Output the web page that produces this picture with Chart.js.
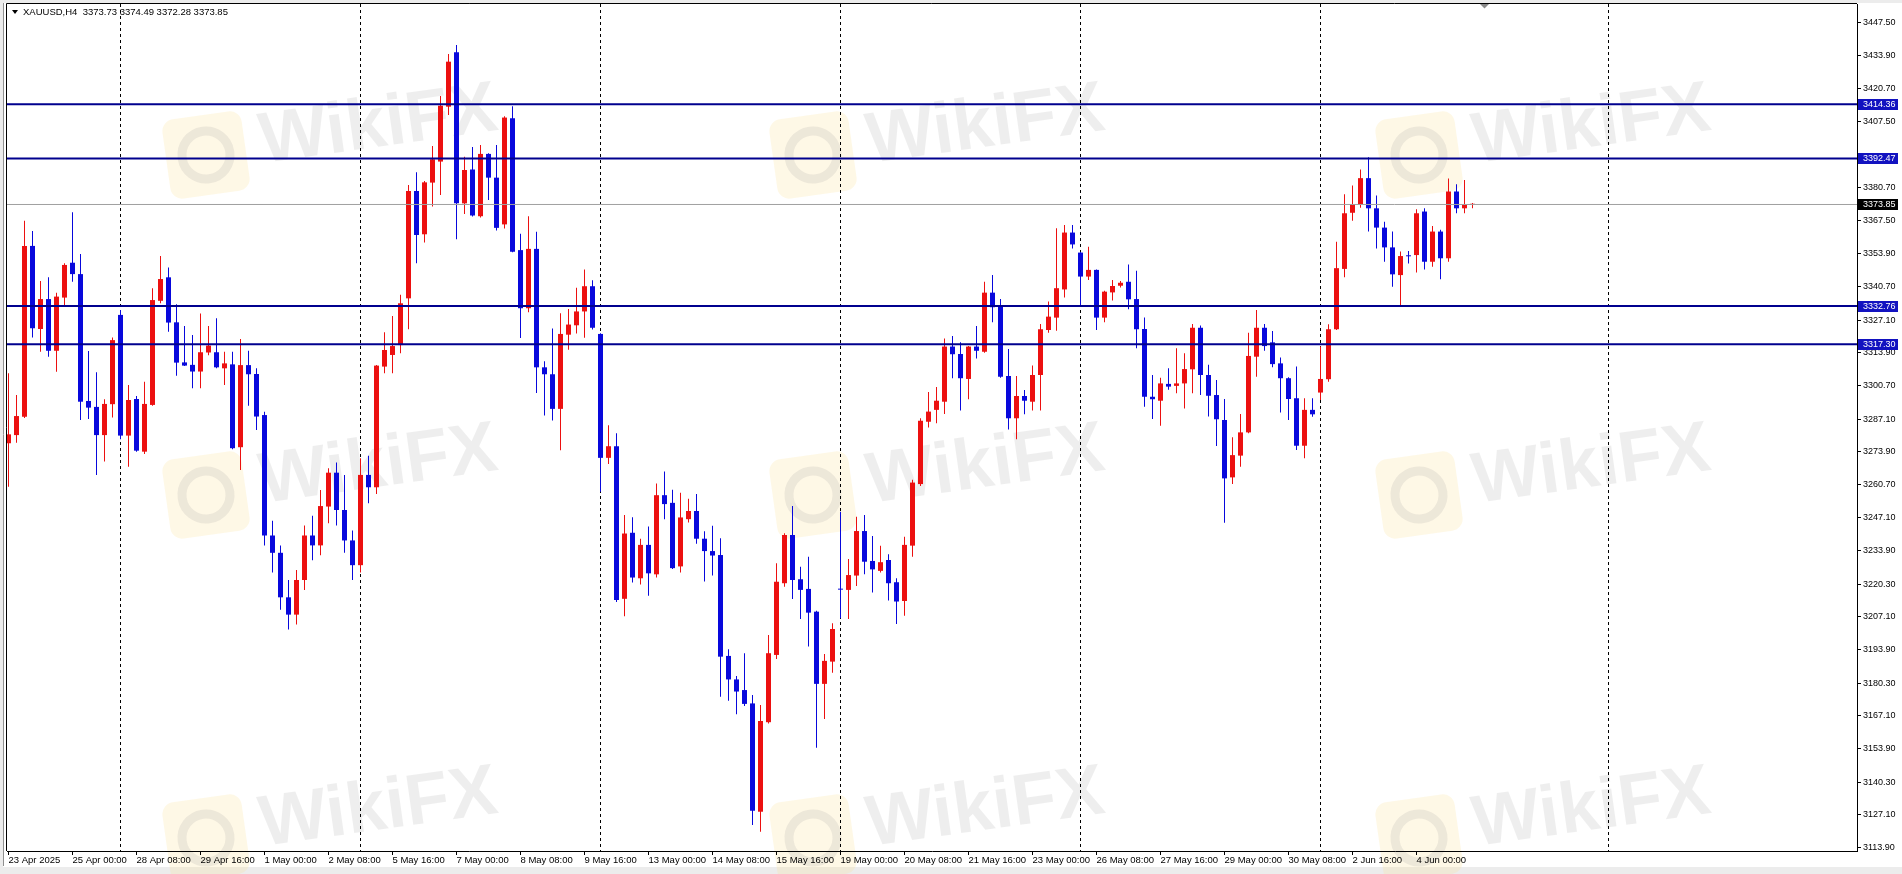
<!DOCTYPE html>
<html>
<head>
<meta charset="utf-8">
<script src="https://cdn.jsdelivr.net/npm/chart.js@4.4.1/dist/chart.umd.min.js"></script>
<style>
  html, body { margin: 0; padding: 0; background: #fff; overflow: hidden; }
  #wrap { width: 1902px; height: 874px; position: relative; }
</style>
</head>
<body>
<div id="wrap"><canvas id="chart"></canvas></div>
<script>
// XAUUSD H4, one entry per bar (bar 0 = 23 Apr 16:00)
const opens = [
  3277.3,3280.6,3288.0,3357.1,3323.5,3335.6,3314.7,3336.2,3350.3,3345.7,3294.4,3292.0,3280.6,3293.1,3329.2,3280.4,3295.2,3273.9,3292.8,3334.9,
  3344.4,3326.2,3310.0,3309.0,3306.3,3314.0,3314.1,3307.6,3309.2,3275.7,3308.9,3305.3,3288.7,3240.0,3233.0,3215.0,3208.0,3222.0,3240.0,3236.0,
  3251.7,3265.4,3250.3,3238.0,3228.0,3264.5,3259.5,3308.3,3313.0,3317.0,3335.9,3379.3,3361.8,3382.7,3391.2,3413.4,3435.4,3374.3,3388.0,3369.1,
  3394.3,3384.7,3365.8,3408.7,3355.4,3331.9,3355.9,3308.0,3305.2,3291.2,3321.2,3325.0,3330.6,3340.8,3321.5,3271.4,3276.1,3214.4,3241.1,3222.7,
  3236.2,3224.3,3256.3,3253.2,3227.5,3246.6,3249.9,3238.7,3233.7,3232.1,3191.3,3181.8,3177.5,3172.1,3128.3,3164.5,3191.7,3220.7,3240.2,3222.3,
  3218.4,3209.2,3180.0,3189.0,3218.3,3218.0,3223.8,3241.8,3229.7,3225.7,3230.1,3221.1,3213.5,3235.9,3260.8,3286.0,3290.8,3294.1,3316.4,3313.4,
  3303.3,3316.4,3314.3,3338.2,3332.8,3304.5,3287.4,3296.4,3294.1,3304.9,3323.1,3328.1,3339.5,3362.5,3354.4,3344.7,3347.4,3328.1,3338.3,3341.0,
  3342.6,3335.6,3323.5,3296.1,3294.5,3301.3,3300.5,3301.5,3307.2,3324.0,3304.9,3296.8,3286.7,3263.5,3272.3,3281.7,3312.3,3324.0,3318.1,3309.6,
  3303.6,3295.5,3276.3,3290.8,3297.8,3303.2,3323.4,3347.8,3370.5,3374.0,3384.5,3372.3,3364.5,3356.5,3345.3,3353.1,3353.4,3371.0,3350.7,3362.9,
  3352.1,3379.1,3372.3,3373.73
];
const highs = [
  3305.6,3296.8,3367.3,3363.1,3342.9,3344.4,3338.2,3350.1,3370.7,3353.8,3314.6,3306.0,3295.1,3320.1,3331.2,3300.9,3296.4,3302.2,3340.0,3353.0,
  3348.4,3333.5,3324.7,3321.1,3329.8,3324.7,3327.8,3314.3,3314.3,3319.5,3314.7,3307.6,3290.0,3246.0,3236.0,3222.0,3226.0,3244.0,3248.0,3258.4,
  3267.2,3269.5,3264.5,3242.0,3271.2,3272.2,3308.9,3322.2,3328.8,3337.3,3381.7,3386.9,3383.3,3397.5,3417.7,3434.7,3438.3,3393.2,3397.1,3397.9,
  3394.6,3397.9,3409.5,3413.6,3362.0,3369.1,3362.8,3310.5,3323.7,3329.9,3331.6,3340.2,3347.6,3343.2,3321.8,3284.6,3281.3,3248.3,3247.4,3238.7,
  3243.6,3261.0,3265.9,3258.5,3257.3,3254.9,3256.8,3241.7,3243.9,3238.9,3194.0,3183.2,3192.4,3175.5,3171.5,3199.8,3228.8,3240.9,3251.9,3227.4,
  3231.4,3209.6,3192.1,3204.5,3249.6,3230.5,3247.6,3248.3,3239.8,3235.9,3232.4,3222.7,3239.5,3262.5,3287.4,3298.0,3300.0,3319.7,3320.7,3318.1,
  3316.6,3324.7,3342.6,3345.3,3335.6,3315.4,3304.5,3298.8,3308.7,3325.5,3334.6,3364.2,3365.6,3365.6,3354.6,3356.8,3347.6,3339.0,3343.3,3342.9,
  3349.6,3347.1,3328.2,3304.9,3303.8,3307.6,3315.7,3313.7,3325.5,3324.9,3309.0,3302.9,3295.2,3279.7,3289.1,3322.0,3331.2,3325.5,3322.7,3312.0,
  3304.0,3308.3,3295.5,3295.5,3316.4,3325.4,3358.8,3378.0,3381.5,3388.0,3393.0,3377.5,3366.9,3362.9,3354.8,3355.0,3371.9,3372.3,3365.2,3363.6,
  3384.4,3382.0,3383.8,3374.49
];
const lows = [
  3259.7,3277.5,3287.5,3320.1,3314.3,3312.3,3306.2,3332.8,3342.6,3286.7,3287.1,3264.5,3269.9,3287.7,3278.9,3267.8,3273.9,3273.0,3292.5,3333.9,
  3322.4,3304.6,3308.5,3299.5,3299.5,3312.9,3307.6,3300.9,3274.9,3266.5,3292.5,3282.7,3236.0,3225.0,3210.0,3202.0,3204.0,3218.0,3230.0,3232.0,
  3245.0,3244.0,3233.0,3222.0,3225.0,3253.0,3256.8,3305.6,3305.6,3313.7,3323.4,3350.1,3358.5,3373.0,3377.7,3410.0,3359.8,3370.0,3369.0,3368.6,
  3375.7,3363.3,3364.1,3354.5,3319.9,3330.3,3297.6,3288.5,3286.5,3274.5,3315.1,3321.7,3320.0,3323.3,3257.7,3268.9,3213.1,3207.3,3221.0,3220.2,
  3215.6,3223.0,3246.6,3226.5,3225.0,3245.3,3236.7,3221.4,3223.8,3174.8,3173.2,3167.7,3171.1,3122.9,3120.2,3164.0,3190.1,3219.3,3214.3,3206.2,
  3195.1,3154.2,3165.8,3184.5,3206.5,3206.2,3219.6,3224.3,3216.9,3225.0,3213.7,3204.2,3207.5,3231.4,3260.0,3283.7,3285.4,3289.1,3303.6,3290.5,
  3295.1,3311.6,3313.9,3326.2,3303.8,3282.9,3278.9,3289.0,3290.5,3290.5,3322.0,3322.8,3336.2,3356.1,3332.6,3343.3,3323.1,3326.2,3335.0,3340.3,
  3331.5,3315.7,3292.1,3287.1,3284.4,3298.9,3297.5,3291.4,3297.5,3296.8,3288.1,3276.2,3245.2,3260.8,3267.8,3281.3,3304.2,3314.7,3308.0,3289.7,
  3286.7,3274.6,3271.2,3288.0,3294.8,3302.2,3323.1,3344.4,3367.3,3372.5,3362.9,3356.1,3350.7,3340.6,3333.0,3350.0,3346.3,3347.6,3348.7,3343.6,
  3350.7,3370.3,3370.3,3372.28
];
const closes = [
  3280.9,3288.3,3357.1,3323.8,3335.6,3314.7,3336.6,3349.4,3345.7,3294.1,3291.7,3280.6,3293.2,3319.0,3280.4,3294.8,3274.3,3293.2,3335.2,3343.7,
  3326.1,3309.9,3308.7,3306.3,3314.1,3316.8,3308.0,3309.6,3275.3,3308.9,3305.2,3288.1,3240.0,3233.0,3215.0,3208.0,3222.0,3240.0,3236.0,3251.9,
  3265.4,3250.3,3238.0,3228.0,3264.5,3259.5,3308.7,3315.0,3316.6,3333.9,3379.3,3361.5,3382.8,3392.1,3413.8,3431.6,3374.3,3387.8,3369.4,3394.3,
  3384.7,3364.4,3409.0,3354.7,3331.9,3355.9,3308.0,3305.2,3291.2,3321.5,3325.3,3330.6,3340.8,3324.0,3271.4,3276.1,3213.9,3240.8,3223.0,3236.2,
  3224.7,3256.3,3252.7,3226.8,3247.3,3249.9,3238.7,3233.7,3231.9,3191.0,3181.8,3176.9,3171.9,3128.7,3165.0,3192.4,3221.3,3240.2,3222.0,3218.0,
  3208.8,3180.0,3189.3,3202.2,3218.1,3224.0,3241.8,3229.4,3226.3,3229.2,3220.7,3213.3,3236.2,3261.4,3286.4,3290.1,3294.5,3316.4,3313.3,3303.6,
  3316.4,3314.7,3338.2,3332.3,3304.2,3287.4,3296.4,3294.5,3304.9,3323.4,3328.5,3340.0,3362.5,3357.7,3344.7,3347.4,3328.1,3338.6,3340.9,3342.2,
  3335.5,3323.4,3296.1,3295.1,3301.5,3300.2,3301.5,3307.3,3324.0,3304.9,3296.5,3287.0,3263.1,3272.5,3281.7,3312.6,3324.0,3316.6,3309.3,3303.6,
  3295.2,3276.3,3290.8,3289.0,3303.3,3323.4,3348.1,3370.3,3374.0,3384.5,3372.3,3364.5,3356.5,3345.6,3353.0,3352.9,3370.3,3350.7,3362.9,3352.1,
  3379.1,3372.3,3373.9,3373.85
];

// time axis: one label every 8 bars
const timeLabels = ['23 Apr 2025','25 Apr 00:00','28 Apr 08:00','29 Apr 16:00','1 May 00:00','2 May 08:00','5 May 16:00',
  '7 May 00:00','8 May 08:00','9 May 16:00','13 May 00:00','14 May 08:00','15 May 16:00','19 May 00:00','20 May 08:00',
  '21 May 16:00','23 May 00:00','26 May 08:00','27 May 16:00','29 May 00:00','30 May 08:00','2 Jun 16:00','4 Jun 00:00'];
const labelStep = 8;
const gridBars = [14, 44, 74, 104, 134, 164, 200];

const priceTicks = [3447.50,3433.90,3420.70,3407.50,3380.70,3367.50,3353.90,3340.70,3327.10,3313.90,3300.70,3287.10,
  3273.90,3260.70,3247.10,3233.90,3220.30,3207.10,3193.90,3180.30,3167.10,3153.90,3140.30,3127.10,3113.90];
const levels = [3414.36, 3392.47, 3332.76, 3317.30];
const lastPrice = 3373.85;
const header = 'XAUUSD,H4  3373.73 3374.49 3372.28 3373.85';

const UP = '#ec1010';
const DOWN = '#0808dc';
const LEVEL = '#00008e';
const FONT = '"Liberation Sans", Arial, sans-serif';
const X_MIN = -0.1875, X_MAX = 231.0625;
const Y_MIN = 3112.42, Y_MAX = 3454.92;

const bars = opens.map((o, i) => i);
const barColor = bars.map(i => closes[i] >= opens[i] ? UP : DOWN);

const levelSets = levels.map(v => ({
  type: 'line', data: [{x: X_MIN, y: v}, {x: X_MAX, y: v}],
  borderColor: LEVEL, borderWidth: 2, pointRadius: 0, order: 0
}));

function noPad(s) { s.paddingTop = 0; s.paddingBottom = 0; s.paddingLeft = 0; s.paddingRight = 0; }

const chrome = {
  id: 'chrome',
  beforeDraw(chart) {
    const c = chart.ctx;
    c.save();
    c.fillStyle = '#fff';
    c.fillRect(0, 0, chart.width, chart.height);
    c.fillStyle = '#ececec';
    c.fillRect(0, 0, chart.width, 3);
    c.fillRect(0, 0, 3, chart.height);
    c.fillRect(0, 867, chart.width, 7);
    // faint watermark
    const cols = [206, 813, 1419], rows = [155, 495, 838];
    rows.forEach(ry => cols.forEach(cx => {
      c.save();
      c.translate(cx, ry);
      c.rotate(-0.14);
      c.fillStyle = 'rgba(250, 222, 140, 0.22)';
      c.beginPath();
      c.roundRect(-40, -40, 80, 80, 12);
      c.fill();
      c.strokeStyle = 'rgba(120, 120, 130, 0.13)';
      c.lineWidth = 9;
      c.beginPath();
      c.arc(0, 0, 24, 0, Math.PI * 2);
      c.stroke();
      c.fillStyle = 'rgba(0, 0, 0, 0.065)';
      c.font = 'bold 72px ' + FONT;
      c.textBaseline = 'middle';
      c.fillText('WikiFX', 55, -4);
      c.restore();
    }));
    c.restore();
  },
  afterDraw(chart) {
    const c = chart.ctx, a = chart.chartArea, y = chart.scales.y;
    c.save();
    c.strokeStyle = '#000';
    c.lineWidth = 1;
    c.beginPath();
    c.moveTo(a.left - 0.5, a.bottom);
    c.lineTo(a.left - 0.5, a.top - 0.5);
    c.lineTo(a.right, a.top - 0.5);
    c.stroke();
    c.strokeStyle = '#909090';
    c.beginPath();
    c.moveTo(3.5, 3);
    c.lineTo(3.5, 866);
    c.stroke();
    // header
    c.fillStyle = '#000';
    c.beginPath();
    c.moveTo(12, 10); c.lineTo(18, 10); c.lineTo(15, 14); c.closePath();
    c.fill();
    c.font = '9.5px ' + FONT;
    c.textBaseline = 'middle';
    c.fillText(header, 23, 12.5);
    // shift marker
    c.fillStyle = '#8a8a8a';
    c.beginPath();
    c.moveTo(1480, 4); c.lineTo(1489, 4); c.lineTo(1484.5, 8.5); c.closePath();
    c.fill();
    // price tags on the axis
    c.font = '9px ' + FONT;
    const tag = (v, bg) => {
      const py = Math.round(y.getPixelForValue(v));
      c.fillStyle = bg;
      c.fillRect(a.right + 1, py - 5, 40, 11);
      c.fillStyle = '#fff';
      c.fillText(v.toFixed(2), a.right + 6, py + 0.5);
    };
    levels.forEach(v => tag(v, '#1212c0'));
    tag(lastPrice, '#000');
    c.restore();
  }
};

new Chart(document.getElementById('chart'), {
  type: 'bar',
  data: {
    datasets: [
      ...levelSets,
      {
        type: 'line', data: [{x: X_MIN, y: lastPrice}, {x: X_MAX, y: lastPrice}],
        borderColor: '#a0a0a0', borderWidth: 1, pointRadius: 0, order: 1
      },
      {
        data: bars.map(i => ({x: i, y: [opens[i], closes[i]]})),
        backgroundColor: barColor, barThickness: 5, minBarLength: 1,
        grouped: false, inflateAmount: 0, order: 2
      },
      {
        data: bars.map(i => ({x: i, y: [lows[i], highs[i]]})),
        backgroundColor: barColor, barThickness: 1,
        grouped: false, inflateAmount: 0, order: 3
      }
    ]
  },
  options: {
    responsive: true,
    maintainAspectRatio: false,
    animation: false,
    devicePixelRatio: 1,
    layout: { padding: { left: 7, top: 4, right: 0, bottom: 0 } },
    plugins: { legend: { display: false }, tooltip: { enabled: false } },
    scales: {
      x: {
        type: 'linear', position: 'bottom', min: X_MIN, max: X_MAX, offset: false,
        afterBuildTicks: s => { s.ticks = timeLabels.map((t, k) => ({ value: k * labelStep })); },
        afterFit: s => { s.height = 23; noPad(s); },
        ticks: {
          autoSkip: false, maxRotation: 0, minRotation: 0, align: 'start', padding: 0,
          color: '#000', font: { family: FONT, size: 9.5 },
          callback: (v, k) => timeLabels[k]
        },
        grid: { offset: false, drawOnChartArea: false, drawTicks: true, tickLength: 4, color: '#000' },
        border: { display: true, color: '#000' }
      },
      grid: {
        type: 'linear', position: 'top', min: X_MIN, max: X_MAX, offset: false,
        afterBuildTicks: s => { s.ticks = gridBars.map(v => ({ value: v })); },
        afterFit: s => { s.height = 0; noPad(s); },
        ticks: { display: false },
        grid: { offset: false, drawOnChartArea: true, drawTicks: false, color: '#000', lineWidth: 1 },
        border: { display: false, dash: [3, 3] }
      },
      y: {
        type: 'linear', position: 'right', min: Y_MIN, max: Y_MAX,
        afterBuildTicks: s => { s.ticks = priceTicks.map(v => ({ value: v })); },
        afterFit: s => { s.width = 45; noPad(s); },
        ticks: {
          autoSkip: false, padding: 2, color: '#000', font: { family: FONT, size: 9 },
          callback: v => v.toFixed(2)
        },
        grid: { drawOnChartArea: false, drawTicks: true, tickLength: 4, color: '#000' },
        border: { display: true, color: '#000' }
      }
    }
  },
  plugins: [chrome]
});
</script>
</body>
</html>
